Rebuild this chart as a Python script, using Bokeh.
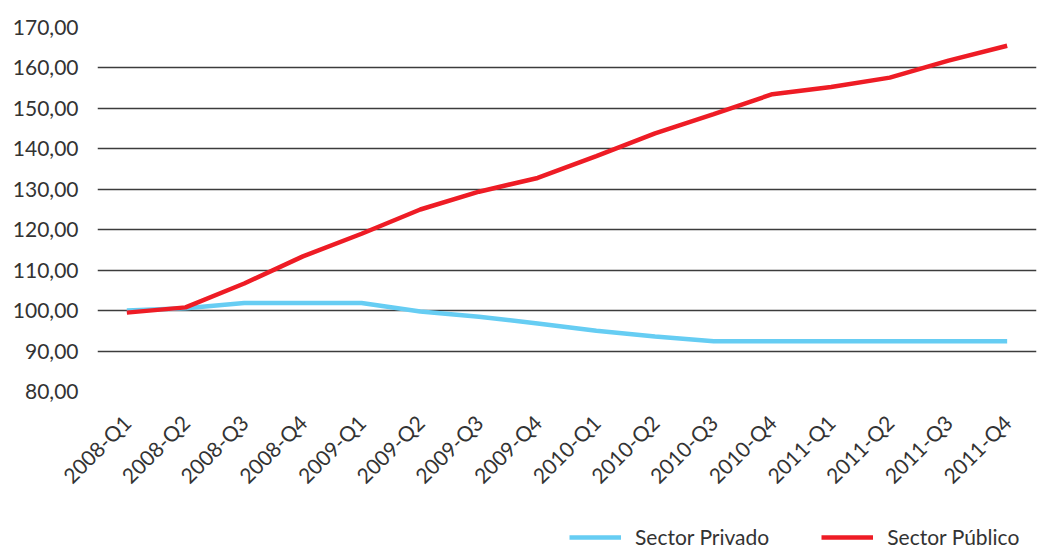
from bokeh.plotting import figure
from bokeh.layouts import column
from bokeh.models import Legend, LegendItem, FactorRange, Range1d, FixedTicker, CustomJSTickFormatter
from bokeh.embed import file_html
from bokeh.resources import INLINE
from math import pi

quarters = ["2008-Q1", "2008-Q2", "2008-Q3", "2008-Q4",
            "2009-Q1", "2009-Q2", "2009-Q3", "2009-Q4",
            "2010-Q1", "2010-Q2", "2010-Q3", "2010-Q4",
            "2011-Q1", "2011-Q2", "2011-Q3", "2011-Q4"]
privado = [100.0, 100.6, 101.9, 101.9, 101.9, 99.8, 98.5, 96.8,
           95.0, 93.6, 92.4, 92.4, 92.4, 92.4, 92.4, 92.4]
publico = [99.5, 100.8, 106.7, 113.4, 119.0, 125.0, 129.4, 132.8,
           138.2, 143.8, 148.6, 153.5, 155.3, 157.6, 161.8, 165.5]
y_ticks = [80, 90, 100, 110, 120, 130, 140, 150, 160, 170]
series_names = ["Sector Privado", "Sector Público"]

FONT = "Lato"
TXT = "#333333"
BLUE = "#66CDF3"
RED = "#EE1C25"

p = figure(width=1062, height=510, x_range=FactorRange(factors=quarters, range_padding=0),
           y_range=Range1d(80, 170), output_backend="svg", toolbar_location=None,
           min_border_top=27, min_border_left=97, min_border_right=26, min_border_bottom=119)
p.outline_line_color = None
p.background_fill_color = "white"
p.border_fill_color = "white"

p.xgrid.grid_line_color = None
p.ygrid.grid_line_color = "#3c3c3c"
p.ygrid.grid_line_width = 1.3
p.yaxis.ticker = FixedTicker(ticks=y_ticks)
p.yaxis.formatter = CustomJSTickFormatter(code="return tick.toFixed(2).replace('.', ',');")

for ax in (p.xaxis[0], p.yaxis[0]):
    ax.axis_line_color = None
    ax.major_tick_line_color = None
    ax.minor_tick_line_color = None
    ax.major_label_text_font = FONT
    ax.major_label_text_font_size = "21px"
    ax.major_label_text_color = TXT
p.yaxis.major_label_standoff = 13
p.xaxis.major_label_orientation = pi / 4
p.xaxis.major_label_standoff = 21

p.line(quarters, privado, line_color=BLUE, line_width=4.5)
p.line(quarters, publico, line_color=RED, line_width=4.5)

# legend strip below the chart (its frame is aligned with the chart's frame)
lg = figure(width=1062, height=39, x_range=Range1d(0, 1), y_range=Range1d(0, 1),
            output_backend="svg", toolbar_location=None,
            x_axis_type=None, y_axis_type=None,
            min_border_left=97, min_border_right=26, min_border_top=0, min_border_bottom=0)
lg.outline_line_color = None
lg.xgrid.grid_line_color = None
lg.ygrid.grid_line_color = None
# hidden stand-in renderers (outside the visible range) for the legend glyphs
d1 = lg.line([2, 3], [2, 2], line_color=BLUE, line_width=4.5)
d2 = lg.line([2, 3], [2, 2], line_color=RED, line_width=4.5)
legend = Legend(items=[LegendItem(label=series_names[0], renderers=[d1]),
                       LegendItem(label=series_names[1], renderers=[d2])],
                orientation="horizontal", location=(472, 0),
                label_text_font=FONT, label_text_font_size="21px", label_text_color=TXT,
                glyph_width=52, glyph_height=20, spacing=52, label_standoff=14,
                border_line_color=None, background_fill_alpha=0,
                margin=0, padding=0)
lg.add_layout(legend, "center")

layout = column(p, lg, spacing=0)
open("out.html", "w").write(file_html(layout, INLINE))
